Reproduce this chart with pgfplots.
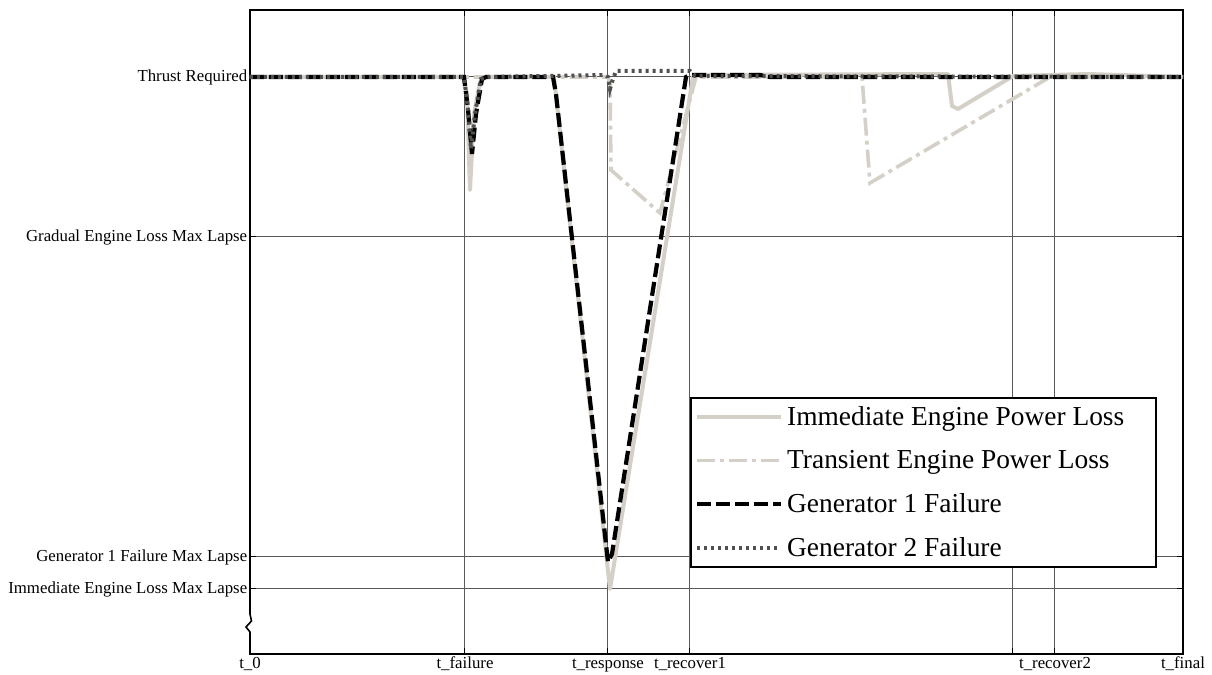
\documentclass[border=0pt]{standalone}
\usepackage{fontspec}
\setmainfont{Liberation Serif}
\usepackage{pgfplots}
\pgfplotsset{compat=1.18}
\definecolor{lgray}{RGB}{212,208,200}
\definecolor{dgray}{RGB}{80,80,80}
\begin{document}
\begin{tikzpicture}
\begin{axis}[
  name=ax,
  scale only axis,
  width=466.5pt, height=322pt,
  xmin=0, xmax=933, ymin=0, ymax=644,
  clip=false,
  axis line style={black, line width=0.8pt},
  xtick={0,215,358,440,763,805,933},
  xticklabels={t\_0,t\_failure,t\_response,t\_recover1,{},t\_recover2,t\_final},
  ytick={65,97,417,577},
  yticklabels={Immediate Engine Loss Max Lapse,Generator 1 Failure Max Lapse,Gradual Engine Loss Max Lapse,Thrust Required},
  ticklabel style={font=\fontsize{8.4}{10}\selectfont, inner sep=1.2pt},
  xticklabel style={text height=6pt, text depth=1.5pt, anchor=north},
  xmajorgrids, ymajorgrids,
  major grid style={black!65, line width=0.5pt},
  major tick length=3pt,
  tick style={black, line width=0.5pt},
  legend style={at={(axis cs:440,257)}, anchor=north west, draw=black, line width=1pt,
    font=\fontsize{13.7}{16}\selectfont, row sep=7pt, inner sep=2pt},
  legend cell align=left,
  legend image code/.code={\draw[#1] (0pt,0pt) -- (42pt,0pt);},
]
\addplot[lgray, line width=2pt, line join=round] coordinates {
(0,577) (213,577) (217,560) (220,464) (224,540) (230,572) (235,577)
(304,577) (360,65) (443,577) (445,579) (698,580) (702,548) (708,545)
(763,578) (838,580) (933,577)};
\addlegendentry{Immediate Engine Power Loss\hspace*{12pt}}
\addplot[lgray, line width=1.8pt, dash pattern=on 9pt off 2.5pt on 2pt off 2.5pt] coordinates {
(0,577) (358,577) (360,570) (361,484) (410,441) (446,577) (612,577)
(620,471) (800,577) (933,577)};
\addlegendentry{Transient Engine Power Loss}
\addplot[black, line width=2.1pt, dash pattern=on 7pt off 2.5pt] coordinates {
(0,577) (214,577) (218,545) (222,500) (226,540) (232,575) (236,577)
(303,577) (306,560) (358,92) (362,100) (436,577) (440,579) (510,579)
(520,577) (933,577)};
\addlegendentry{Generator 1 Failure}
\addplot[dgray, line width=2pt, dash pattern=on 1.5pt off 2pt] coordinates {
(0,577) (214,577) (218,545) (221,505) (225,540) (231,575) (236,577)
(355,579) (358,577) (360,565) (362,572) (366,583) (440,583) (445,578)
(933,577)};
\addlegendentry{Generator 2 Failure}
\draw[white, line width=2.5pt] (axis cs:0,41) -- (axis cs:0,21);
\draw[black, line width=0.8pt] (axis cs:0,42) -- (axis cs:0,40) -- (axis cs:1.5,33) -- (axis cs:-4,27) -- (axis cs:0,22) -- (axis cs:0,20);
\end{axis}
\pgfresetboundingbox
\path ([shift={(-125pt,-10.5pt)}]ax.south west) rectangle ([shift={(14.5pt,5pt)}]ax.north east);
\end{tikzpicture}
\end{document}
